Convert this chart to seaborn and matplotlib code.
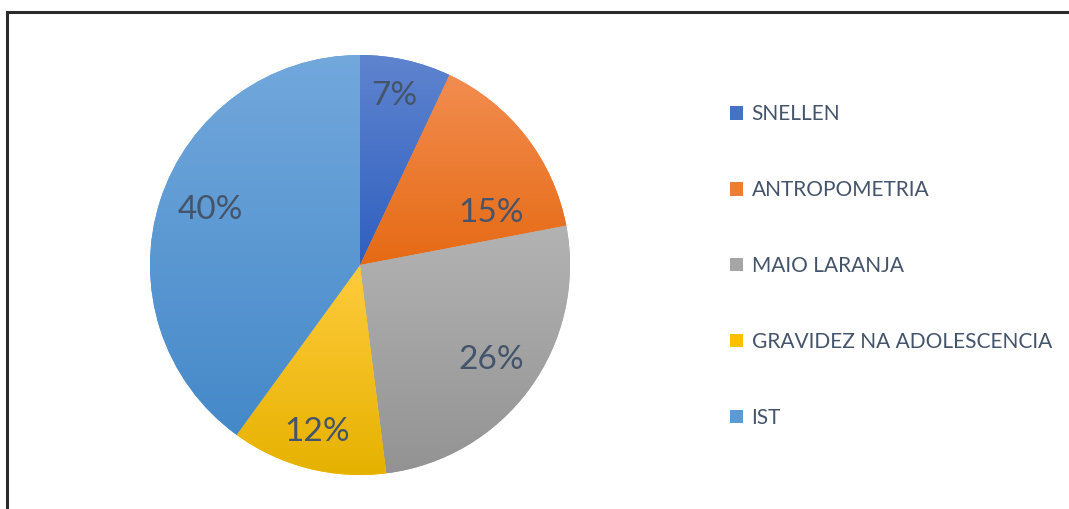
import numpy as np
import matplotlib
matplotlib.use('Agg')
import matplotlib.pyplot as plt
import seaborn as sns
from matplotlib.patches import Patch, Rectangle
from matplotlib.colors import to_rgb

# data
categories = ['SNELLEN', 'ANTROPOMETRIA', 'MAIO LARANJA',
              'GRAVIDEZ NA ADOLESCENCIA', 'IST']
shares = [7, 15, 26, 12, 40]

# office-like palette, lighter at top, darker at bottom
top_colors = ['#5F84CF', '#F28D50', '#B3B3B3', '#FFCB3D', '#72A8DC']
bottom_colors = ['#2F5FBF', '#E66A14', '#939393', '#E6B200', '#4589C9']
base_colors = sns.color_palette(['#4472C4', '#ED7D31', '#A5A5A5', '#FFC000', '#5B9BD5'])

sns.set_theme(style="white")
plt.rcParams['font.family'] = ['Lato', 'DejaVu Sans']
text_color = '#44546A'

W, H = 1069, 509
fig = plt.figure(figsize=(W / 100, H / 100), dpi=100)
fig.patch.set_facecolor('white')

# pie centred at (360, 265) px with radius 210 px
cx, cy, r = 360, 265, 210
ax = fig.add_axes([(cx - r) / W, (H - cy - r) / H, 2 * r / W, 2 * r / H])

wedges, texts, autotexts = ax.pie(
    shares, colors=base_colors, startangle=90, counterclock=False,
    autopct='%1.0f%%', pctdistance=0.78,
    textprops={'fontsize': 24, 'color': text_color},
    wedgeprops={'linewidth': 0})

# gradient fill for each wedge
for w, c_top, c_bot in zip(wedges, top_colors, bottom_colors):
    ext = w.get_path().get_extents()
    t = np.linspace(0, 1, 256)[:, None]
    grad = (1 - t) * np.array(to_rgb(c_top)) + t * np.array(to_rgb(c_bot))
    im = ax.imshow(grad[:, None, :].repeat(2, axis=1),
                   extent=(ext.x0, ext.x1, ext.y0, ext.y1),
                   aspect='auto', origin='upper', zorder=w.get_zorder() + 0.1,
                   interpolation='bilinear')
    im.set_clip_path(w)
ax.set_xlim(-1, 1)
ax.set_ylim(-1, 1)
ax.set_aspect('equal')
ax.axis('off')

# label placement roughly as in the original (distance, angle nudge)
label_dist = [0.82, 0.67, 0.77, 0.82, 0.76]
angle_nudge = [1, -16, 0, 0, -2]
for w, txt, d, nud in zip(wedges, autotexts, label_dist, angle_nudge):
    ang = np.deg2rad((w.theta1 + w.theta2) / 2 + nud)
    txt.set_position((d * np.cos(ang), d * np.sin(ang)))
    txt.set_zorder(5)

# legend on the right
handles = [Patch(facecolor=c, edgecolor='none') for c in base_colors]
leg = fig.legend(handles, categories, loc='upper left',
                 bbox_to_anchor=(722 / W, 1 - 96 / H), frameon=False,
                 fontsize=15, labelspacing=2.68, handlelength=0.62,
                 handleheight=0.62, handletextpad=0.4, borderaxespad=0)
for t in leg.get_texts():
    t.set_color(text_color)

# dark frame, cut off at the right and bottom like the original
fig.patches.append(Rectangle((7 / W, -0.1), 1.2, 1 - 12 / H + 0.1,
                             transform=fig.transFigure, fill=False,
                             edgecolor='#2B2B2B', linewidth=2.2))

plt.savefig('out.png', dpi=100)
plt.close()
